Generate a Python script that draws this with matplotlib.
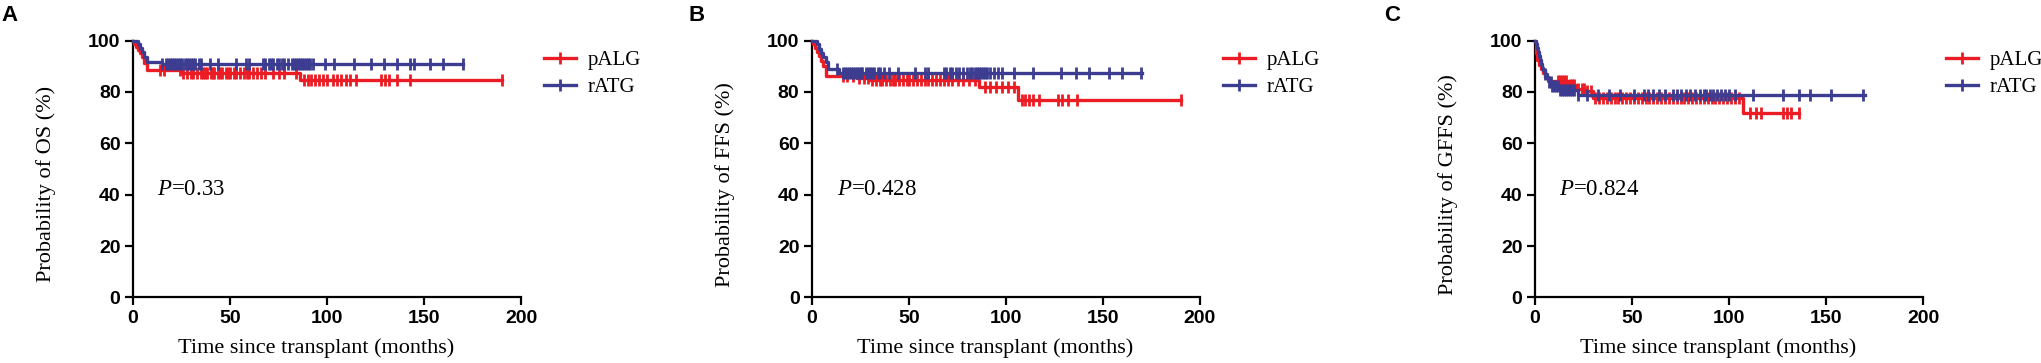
import numpy as np
import matplotlib
matplotlib.use("Agg")
import matplotlib.pyplot as plt
from matplotlib.lines import Line2D

plt.rcParams['mathtext.fontset'] = 'custom'
plt.rcParams['mathtext.rm'] = 'Liberation Serif'
plt.rcParams['mathtext.it'] = 'Liberation Serif:italic'

# ---------------- data ----------------
groups = ["pALG", "rATG"]
panel_letters = ["A", "B", "C"]
y_labels = ["Probability of OS (%)", "Probability of FFS (%)", "Probability of GFFS (%)"]
p_texts = ["0.33", "0.428", "0.824"]
p_x = [12.4, 12.9, 12.2]
x_ticks = [0, 50, 100, 150, 200]
y_ticks = [0, 20, 40, 60, 80, 100]

# Panel A (OS)
pALG_A_t = [0, 0.5, 1.5, 2.5, 3.5, 4.5, 5.5, 7, 25, 86, 190]
pALG_A_s = [100, 98.8, 97.5, 96.2, 95, 93.7, 91.2, 88.4, 87.2, 84.8, 84.8]
pALG_A_c = [14, 16, 24, 26, 28, 30, 31, 33, 35, 36, 37, 38, 40, 41, 42, 44, 45, 46, 48, 49,
            50, 52, 53, 55, 57, 59, 60, 62, 64, 66, 68, 72, 75, 78, 84, 88, 90, 92, 94,
            96, 98, 100, 103, 105, 107, 110, 112, 115, 128, 130, 132, 136, 143, 190]
rATG_A_t = [0, 2.5, 3.5, 4.5, 5.5, 7, 15, 170]
rATG_A_s = [100, 98.5, 97, 95.4, 93.8, 91.6, 90.8, 90.8]
rATG_A_c = [15, 17, 18, 19, 20, 21, 22, 23, 24, 25, 27, 28, 29, 30, 31, 32, 34, 35, 39.5,
            44, 53, 58, 60, 67, 68, 70, 71, 72, 74, 75, 77, 78, 80, 82, 83, 84, 85, 86, 87,
            88, 89, 90, 91, 93, 99, 103.6, 113.7, 122.7, 129.4, 136, 143, 145, 153, 160, 170]

# Panel B (FFS)
pALG_B_t = [0, 0.5, 1.5, 2.5, 3.5, 4.5, 5.5, 7, 23, 30, 86, 106, 190]
pALG_B_s = [100, 98.5, 97, 95.5, 94, 92, 90, 86.3, 85.6, 84.8, 81.8, 76.9, 76.9]
pALG_B_c = [16, 18, 21, 24, 27, 29, 31, 33, 35, 36, 38, 40, 42, 43, 45, 47, 49, 50, 52, 54,
            56, 58, 60, 62, 64, 66, 68, 70, 72, 75, 78, 81, 84, 89, 92, 95, 98, 101, 104,
            108, 110, 112, 114, 117, 127, 129, 132, 136.5, 190]
rATG_B_t = [0, 2.5, 3.5, 4.5, 5.5, 7, 8.5, 14, 170]
rATG_B_s = [100, 98.5, 96.9, 95.3, 93.7, 91.5, 88.8, 87.2, 87.2]
rATG_B_c = [13, 16, 17, 18, 19, 20, 21, 22, 23, 24, 25, 26, 28, 29, 30, 31, 32, 34, 35, 37,
            39.7, 44.3, 53, 58, 60, 68, 69, 71, 72, 74, 76, 78, 80, 81.4, 82.5, 84, 85, 86,
            87, 88, 89, 90, 92, 94, 96, 98, 104, 114, 128.5, 136, 142.8, 153, 160, 169.6]

# Panel C (GFFS)
pALG_C_t = [0, 0.3, 0.7, 1.2, 2, 3, 4, 5, 6.5, 17, 21, 26, 30, 107, 136]
pALG_C_s = [100, 97.5, 95, 92.5, 90.5, 89, 87.5, 86, 84.3, 82.6, 81.3, 80.2, 77.5, 71.8, 71.8]
pALG_C_c = [12, 13, 14, 15, 16, 18, 19, 20, 22, 24, 25, 27, 29, 31, 33, 35, 37, 39, 41, 43,
            45, 47, 49, 51, 53, 55, 57, 59, 61, 63, 65, 67, 69, 71, 73, 75, 77, 79, 81, 83,
            85, 87, 89, 91, 93, 95, 97, 99, 101, 103, 105, 110.8, 114, 116.6, 127.6, 130,
            132, 136]
rATG_C_t = [0, 0.5, 1, 1.5, 2, 2.5, 3, 3.5, 4, 5, 6, 7, 9, 13, 22, 170]
rATG_C_s = [100, 98.5, 97, 95.5, 94, 92.5, 91, 89.5, 88.5, 87, 85.5, 84, 82.3, 80.6, 79.0, 79.0]
rATG_C_c = [5.4, 7, 8, 9, 10, 11, 12, 13, 14, 15, 16, 17, 18, 19, 20, 22, 27, 32.5, 38, 44,
            51, 56, 58, 61, 64, 67, 71, 73, 75, 78, 80, 82.5, 85, 87, 88, 90, 92, 94, 96, 98,
            100, 103, 112.6, 128, 136, 141.6, 152.6, 169]

panels = [
    ((pALG_A_t, pALG_A_s, pALG_A_c), (rATG_A_t, rATG_A_s, rATG_A_c)),
    ((pALG_B_t, pALG_B_s, pALG_B_c), (rATG_B_t, rATG_B_s, rATG_B_c)),
    ((pALG_C_t, pALG_C_s, pALG_C_c), (rATG_C_t, rATG_C_s, rATG_C_c)),
]

colors = ["#ec1c24", "#3c3c90"]

# ---------------- figure ----------------
W, H = 2041, 363
fig = plt.figure(figsize=(W / 100, H / 100), dpi=100)

ax_left_px = [133, 812, 1535]
letter_px = [1, 689, 1384]
ax_w, ax_h = 388, 256.8
ax_bottom = 65.6

serif = "Liberation Serif"
sans = "Liberation Sans"

for i, (ax_lx, data) in enumerate(zip(ax_left_px, panels)):
    ax = fig.add_axes([ax_lx / W, ax_bottom / H, ax_w / W, ax_h / H])
    for (t, s, c), col in zip(data, colors):
        t = np.asarray(t, float)
        s = np.asarray(s, float)
        c = np.asarray(c, float)
        ax.step(t, s, where="post", color=col, lw=2.4, clip_on=False, zorder=3)
        idx = np.searchsorted(t, c, side="right") - 1
        idx = np.clip(idx, 0, len(s) - 1)
        ax.plot(c, s[idx], linestyle="none", marker="|", markersize=8,
                markeredgewidth=2.0, color=col, clip_on=False, zorder=3)

    ax.set_xlim(0, 200)
    ax.set_ylim(0, 100)
    ax.set_xticks(x_ticks)
    ax.set_yticks(y_ticks)
    for sp in ["top", "right"]:
        ax.spines[sp].set_visible(False)
    for sp in ["left", "bottom"]:
        ax.spines[sp].set_linewidth(1.6)
    ax.tick_params(direction="out", length=6, width=1.6, pad=3, labelsize=14)
    for lab in ax.get_xticklabels() + ax.get_yticklabels():
        lab.set_fontfamily(sans)
        lab.set_fontweight("bold")

    ax.set_xlabel("Time since transplant (months)", fontfamily=serif, fontsize=16,
                  va="center")
    ax.xaxis.set_label_coords(0.473, -0.198)
    ax.set_ylabel(y_labels[i], fontfamily=serif, fontsize=16, va="center")
    ax.yaxis.set_label_coords(-87 / ax_w, 0.44)

    ax.text(p_x[i], 42, r"$\it{P}$=" + p_texts[i], fontfamily=serif, fontsize=16.5,
            ha="left", va="center")

    handles = [Line2D([], [], color=col, lw=2.4, marker="|", markersize=8,
                      markeredgewidth=2.0) for col in colors]
    ax.legend(handles, groups, loc="upper left", bbox_to_anchor=(1.06, 0.96),
              frameon=False, prop={"family": serif, "size": 15}, numpoints=1,
              handlelength=1.5, handletextpad=0.6, labelspacing=0.35,
              borderaxespad=0, borderpad=0)

    fig.text(letter_px[i] / W, 1 - 5 / H, panel_letters[i], fontfamily=sans,
             fontweight="bold", fontsize=16, ha="left", va="top")

fig.savefig("out.png", dpi=100)
